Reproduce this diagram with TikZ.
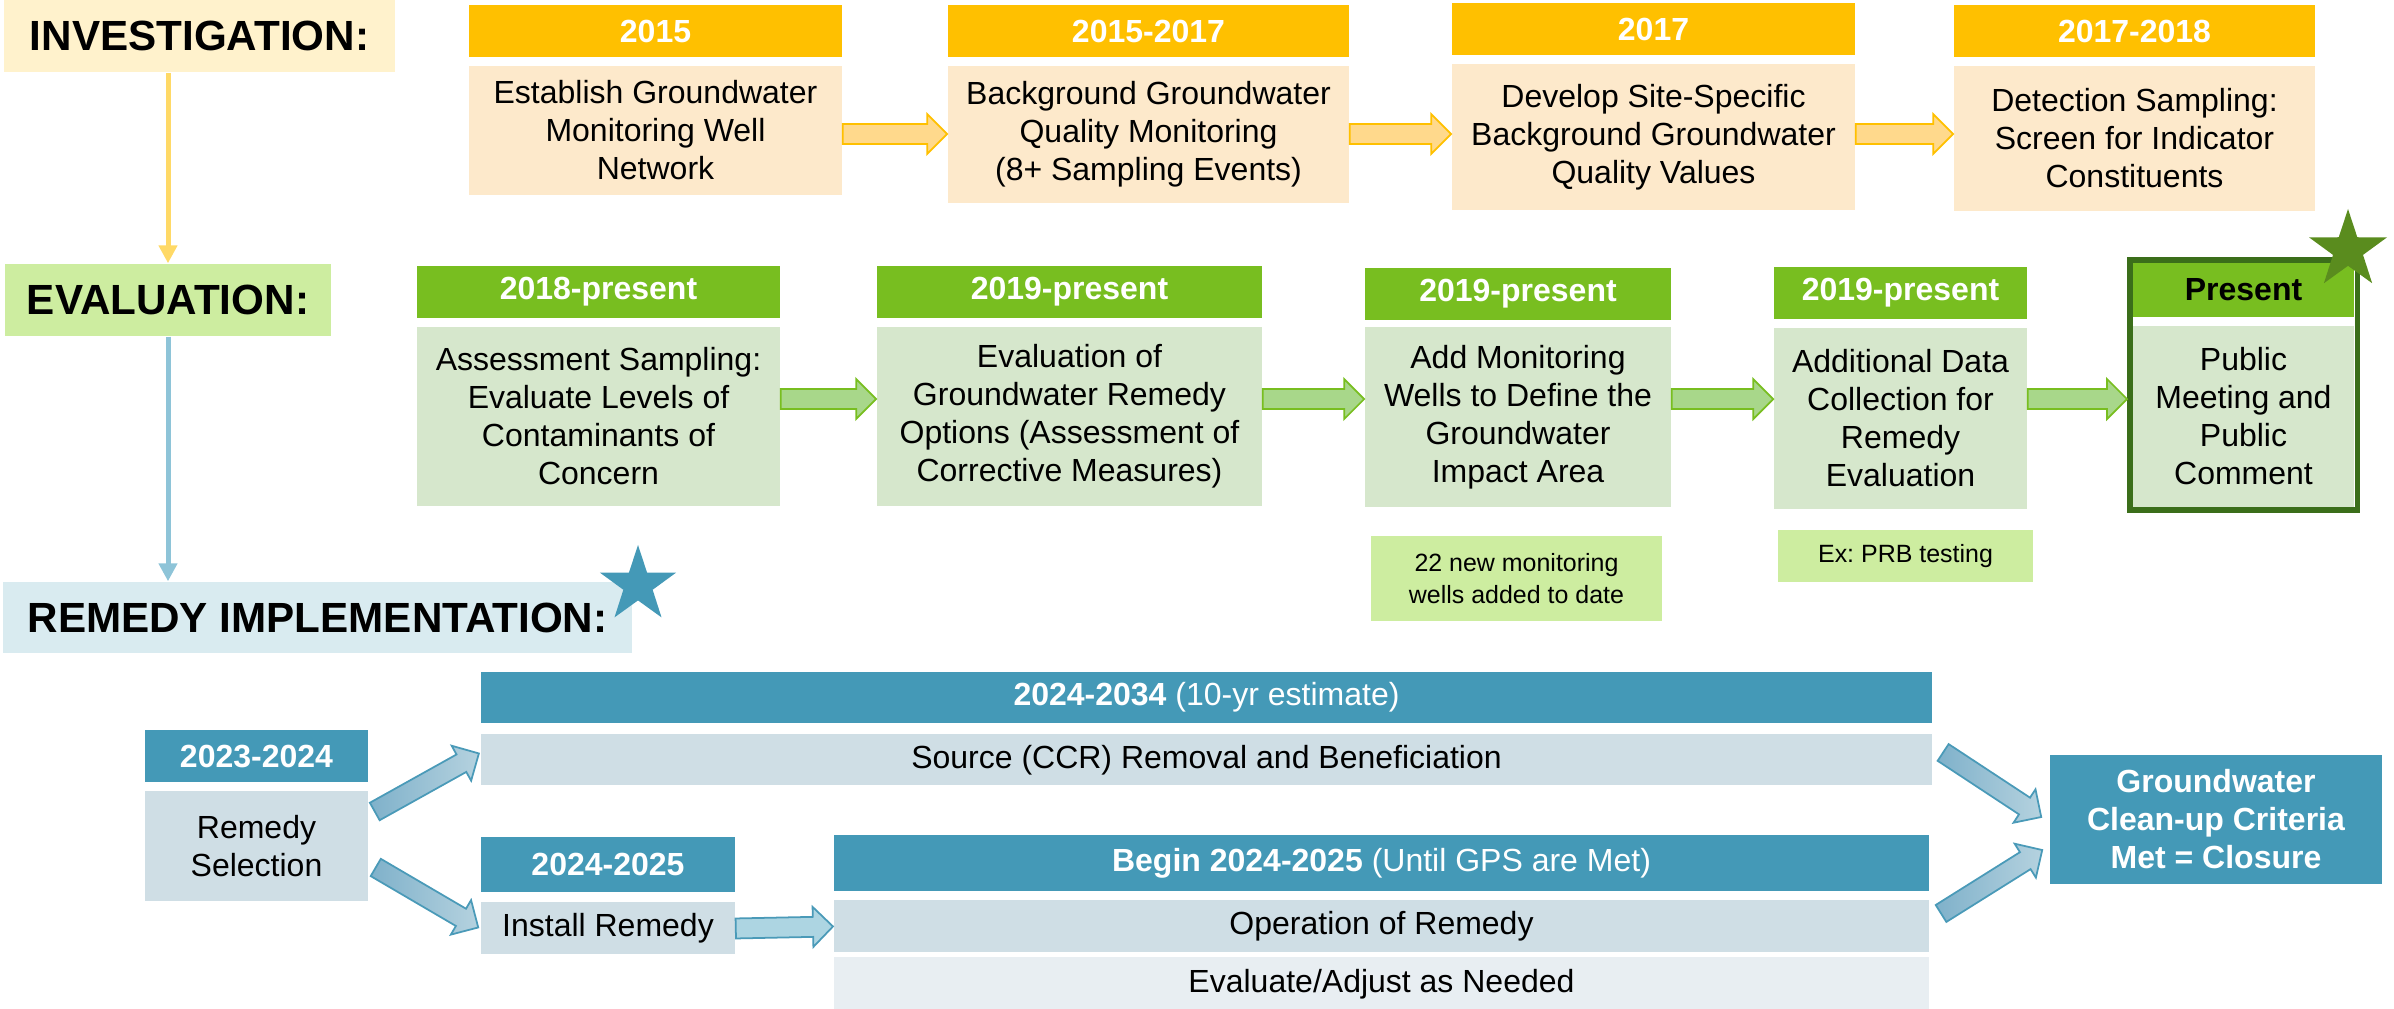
\documentclass[tikz,border=0pt]{standalone}
\usepackage{fontspec}
\setmainfont{Liberation Sans}
\usepackage{tikz}
\usetikzlibrary{arrows.meta,calc,fit,positioning,shapes.geometric}
\frenchspacing

\definecolor{invhead}{HTML}{FFC000}
\definecolor{invbody}{HTML}{FDE9CB}
\definecolor{invlabel}{HTML}{FFF2CC}
\definecolor{invline}{HTML}{FFD966}
\definecolor{invarrowfill}{HTML}{FFD98C}
\definecolor{evhead}{HTML}{78BE20}
\definecolor{evbody}{HTML}{D6E7CC}
\definecolor{evlabel}{HTML}{CDEDA0}
\definecolor{evarrowfill}{HTML}{A8D78A}
\definecolor{presframe}{HTML}{3B6E1A}
\definecolor{evstar}{HTML}{5A8C1E}
\definecolor{remhead}{HTML}{4499B7}
\definecolor{rembody}{HTML}{CFDEE5}
\definecolor{remlight}{HTML}{E8EEF2}
\definecolor{remlabel}{HTML}{D9EBF0}
\definecolor{remline}{HTML}{8EC4D8}
\definecolor{remarrowA}{HTML}{7FB1CA}
\definecolor{remarrowB}{HTML}{B5D2DF}
\definecolor{remarrowdraw}{HTML}{4A9AB8}
\definecolor{remarrowflat}{HTML}{ADD5E2}

\tikzset{
    %Define standard arrow tip
    >={Triangle[length=0.18cm,width=0.18cm]},
    %Define style for year boxes
    yearhdr/.style={
           rectangle,
           inner sep=0pt,
           minimum height=0.52cm,
           font=\fontsize{9.1}{10.8}\selectfont\bfseries,
           text=white,
           align=center},
    stepbody/.style={
           rectangle,
           inner sep=0pt,
           font=\fontsize{9.1}{10.8}\selectfont,
           align=center},
    phaselabel/.style={
           rectangle,
           inner sep=0pt,
           minimum height=0.72cm,
           font=\fontsize{12}{14}\selectfont\bfseries},
    remark/.style={
           rectangle,
           inner sep=0pt,
           fill=evlabel,
           font=\fontsize{7.1}{9.1}\selectfont,
           align=center},
    bigstar/.style={
           star,
           star points=5,
           star point ratio=2.6,
           inner sep=0pt},
    % Define block arrow
    blockarrow/.style={
           to path={
             ($(\tikztostart)!0.1cm!90:(\tikztotarget)$)
             -- ($(\tikztotarget)!0.2cm!(\tikztostart)!0.1cm!-90:(\tikztostart)$)
             -- ($(\tikztotarget)!0.2cm!(\tikztostart)!0.2cm!-90:(\tikztostart)$)
             -- (\tikztotarget)
             -- ($(\tikztotarget)!0.2cm!(\tikztostart)!0.2cm!90:(\tikztostart)$)
             -- ($(\tikztotarget)!0.2cm!(\tikztostart)!0.1cm!90:(\tikztostart)$)
             -- ($(\tikztostart)!0.1cm!-90:(\tikztotarget)$)
             -- cycle}},
    invarrow/.style={blockarrow, fill=invarrowfill, draw=invhead, line width=0.5pt},
    evarrow/.style={blockarrow, fill=evarrowfill, draw=evhead, line width=0.5pt},
    remarrow/.style={blockarrow, draw=remarrowdraw, line width=0.5pt,
           left color=remarrowA, right color=remarrowB},
    remflat/.style={blockarrow, fill=remarrowflat, draw=remarrowdraw, line width=0.5pt},
    % Define line style
    phaseline/.style={->, line width=0.05cm}
}

\begin{document}
\begin{tikzpicture}[x=0.01cm, y=-0.01cm, node distance=0.08cm]
\useasboundingbox (0,0) rectangle (2394,1008);
 %phase labels
\node[phaselabel, fill=invlabel, minimum width=3.91cm](inv) at (199.5,36) {INVESTIGATION:};
\node[phaselabel, fill=evlabel, minimum width=3.26cm](eval) at (168,300) {EVALUATION:};
\node[phaselabel, fill=remlabel, minimum width=6.29cm, minimum height=0.71cm](rem) at (317.5,617.5) {REMEDY IMPLEMENTATION:};
\draw[phaseline, invline] (eval.north |- inv.south) -- (eval.north);
\draw[phaseline, remline] (eval.south) -- (eval.south |- rem.north);
\node[bigstar, fill=remhead, minimum size=0.8cm](remstar) at (638,585) {};

 %investigation
\node[yearhdr, fill=invhead, minimum width=3.73cm](h15) at (655.5,31) {2015};
\node[stepbody, fill=invbody, minimum width=3.73cm, minimum height=1.28cm, below=of h15](b15) {Establish Groundwater\\Monitoring Well\\Network};
\node[yearhdr, fill=invhead, minimum width=4.01cm](h1517) at (1148.5,31) {2015-2017};
\node[stepbody, fill=invbody, minimum width=4.01cm, minimum height=1.36cm, below=of h1517](b1517) {Background Groundwater\\Quality Monitoring\\(8+ Sampling Events)};
\node[yearhdr, fill=invhead, minimum width=4.03cm](h17) at (1653.5,29) {2017};
\node[stepbody, fill=invbody, minimum width=4.03cm, minimum height=1.45cm, below=of h17](b17) {Develop Site-Specific\\Background Groundwater\\Quality Values};
\node[yearhdr, fill=invhead, minimum width=3.61cm](h1718) at (2134.5,31) {2017-2018};
\node[stepbody, fill=invbody, minimum width=3.61cm, minimum height=1.44cm, below=of h1718](b1718) {Detection Sampling:\\Screen for Indicator\\Constituents};
\coordinate (rowone) at (0,134);
\path[invarrow] (b15.east |- rowone) to (b1517.west |- rowone);
\path[invarrow] (b1517.east |- rowone) to (b17.west |- rowone);
\path[invarrow] (b17.east |- rowone) to (b1718.west |- rowone);

 %evaluation
\node[yearhdr, fill=evhead, minimum width=3.63cm](h18) at (598.5,292) {2018-present};
\node[stepbody, fill=evbody, minimum width=3.63cm, minimum height=1.78cm, below=of h18](b18) {Assessment Sampling:\\Evaluate Levels of\\Contaminants of\\Concern};
\node[yearhdr, fill=evhead, minimum width=3.85cm](h19a) at (1069.5,292) {2019-present};
\node[stepbody, fill=evbody, minimum width=3.85cm, minimum height=1.78cm, below=of h19a](b19a) {Evaluation of\\Groundwater Remedy\\Options (Assessment of\\Corrective Measures)};
\node[yearhdr, fill=evhead, minimum width=3.06cm](h19b) at (1518,294) {2019-present};
\node[stepbody, fill=evbody, minimum width=3.06cm, minimum height=1.79cm, below=0.06cm of h19b](b19b) {Add Monitoring\\Wells to Define the\\Groundwater\\Impact Area};
\node[yearhdr, fill=evhead, minimum width=2.53cm](h19c) at (1900.5,293) {2019-present};
\node[stepbody, fill=evbody, minimum width=2.53cm, minimum height=1.80cm, below=of h19c](b19c) {Additional Data\\Collection for\\Remedy\\Evaluation};
\node[yearhdr, fill=evhead, minimum width=2.21cm, minimum height=0.54cm, text=black](hpres) at (2243.5,290) {Present};
\node[stepbody, fill=evbody, minimum width=2.21cm, minimum height=1.80cm, below=of hpres](bpres) {Public\\Meeting and\\Public\\Comment};
\node[draw=presframe, line width=0.055cm, inner sep=0.025cm, fit=(hpres)(bpres)](frame) {};
\node[bigstar, fill=evstar, minimum size=0.82cm](evstar) at (2348,250) {};
\node[remark, minimum width=2.91cm, minimum height=0.85cm](n22) at (1516.5,578.5) {22 new monitoring\\wells added to date};
\node[remark, minimum width=2.55cm, minimum height=0.52cm](nprb) at (1905.5,556) {Ex: PRB testing};
\coordinate (rowtwo) at (0,399);
\path[evarrow] (b18.east |- rowtwo) to (b19a.west |- rowtwo);
\path[evarrow] (b19a.east |- rowtwo) to (b19b.west |- rowtwo);
\path[evarrow] (b19b.east |- rowtwo) to (b19c.west |- rowtwo);
\path[evarrow] (b19c.east |- rowtwo) to (frame.west |- rowtwo);

 %remedy implementation
\node[yearhdr, fill=remhead, minimum width=2.23cm](h2324) at (256.5,756) {2023-2024};
\node[stepbody, fill=rembody, minimum width=2.23cm, minimum height=1.09cm, below=of h2324](rsel) {Remedy\\Selection};
\node[yearhdr, fill=remhead, minimum width=14.51cm, minimum height=0.51cm](h2434) at (1206.5,697.5) {2024-2034 {\mdseries (10-yr estimate)}};
\node[stepbody, fill=rembody, minimum width=14.51cm, minimum height=0.51cm, below=0.1cm of h2434](src) {Source (CCR) Removal and Beneficiation};
\node[yearhdr, fill=remhead, minimum width=2.54cm, minimum height=0.55cm](h2425) at (608,864.5) {2024-2025};
\node[stepbody, fill=rembody, minimum width=2.54cm, minimum height=0.52cm, below=0.09cm of h2425](inst) {Install Remedy};
\node[yearhdr, fill=remhead, minimum width=10.95cm, minimum height=0.56cm](hbegin) at (1381.5,863) {Begin 2024-2025 {\mdseries (Until GPS are Met)}};
\node[stepbody, fill=rembody, minimum width=10.95cm, minimum height=0.52cm, below=of hbegin](oper) {Operation of Remedy};
\node[stepbody, fill=remlight, minimum width=10.95cm, minimum height=0.54cm, below=0.03cm of oper](evadj) {Evaluate/Adjust as Needed};
\node[yearhdr, fill=remhead, minimum width=3.32cm, minimum height=1.29cm](final) at (2216,819.5) {Groundwater\\Clean-up Criteria\\Met = Closure};
\coordinate (selup) at ($(rsel.east)+(6,-34.5)$);
\coordinate (srcin) at ($(src.west)+(-1,-6.5)$);
\coordinate (seldown) at ($(rsel.east)+(7,21.5)$);
\coordinate (instin) at ($(inst.west)+(-2,-1)$);
\coordinate (srcout) at ($(src.east)+(10,-7.5)$);
\coordinate (finup) at ($(final.west)+(-8,-2.5)$);
\coordinate (operout) at ($(oper.east)+(11,-13)$);
\coordinate (findown) at ($(final.west)+(-7,30.5)$);
\path[remarrow] (selup) to (srcin);
\path[remarrow] (seldown) to (instin);
\path[remarrow] (srcout) to (finup);
\path[remarrow] (operout) to (findown);
\path[remflat] (inst.east) to (oper.west);
\end{tikzpicture}
\end{document}
